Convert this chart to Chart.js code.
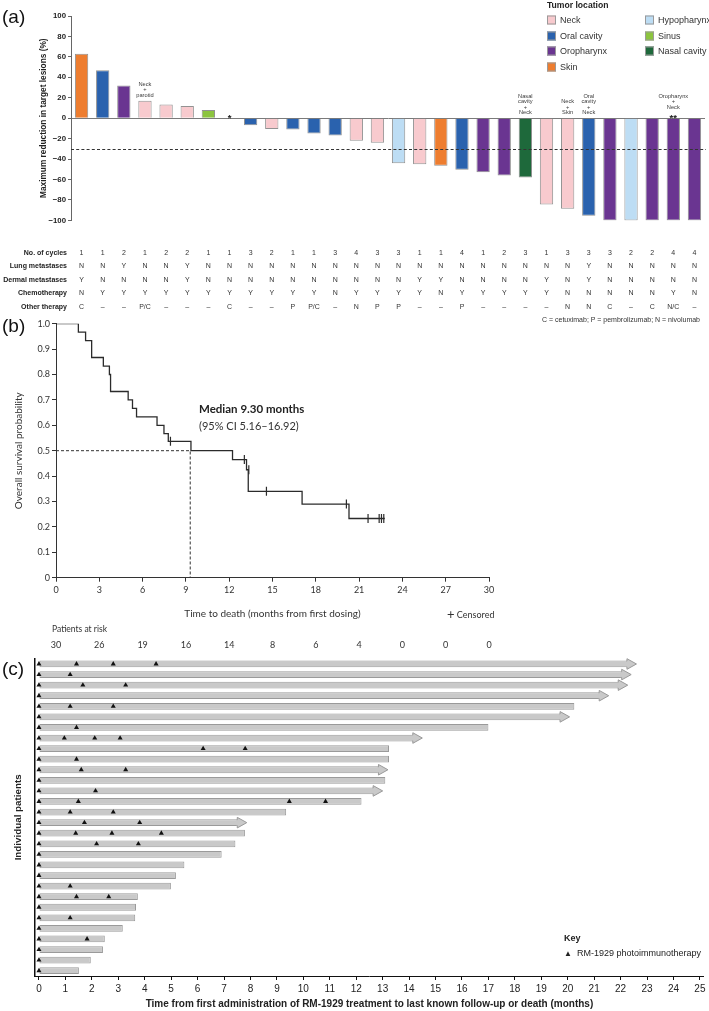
<!DOCTYPE html>
<html lang="en"><head><meta charset="utf-8"><title>RM-1929 figure</title>
<script src="https://cdn.jsdelivr.net/npm/chart.js@4.4.1/dist/chart.umd.min.js"></script>
<style>
html,body{margin:0;padding:0;background:#fff;}
#fig{position:relative;width:709px;height:1011px;overflow:hidden;background:#fff;font-family:'Liberation Sans',Arial,Helvetica,sans-serif;color:#222;}
#fig canvas{position:absolute;left:0;}
.tx{position:absolute;white-space:nowrap;line-height:1;transform:translateY(-50%);}
.panel{font-size:19px;left:2px;color:#111;}
.sw{position:absolute;width:9px;height:9px;box-sizing:border-box;border:1px solid #9a9a9a;transform:translateY(-50%);}
</style></head><body>
<div id="fig">
 <canvas id="chartA" width="709" height="315" style="top:0"></canvas>
 <canvas id="chartB" width="709" height="337" style="top:315px"></canvas>
 <canvas id="chartC" width="709" height="359" style="top:652px"></canvas>
 <div class="tx panel" style="top:16px">(a)</div>
 <div class="tx panel" style="top:325px">(b)</div>
 <div class="tx panel" style="top:668px">(c)</div>
 <div class="tx" style="left:547px;top:5px;font-size:8.6px;font-weight:bold">Tumor location</div>
 <div id="legendA"></div>
 <div class="tx" style="right:9px;top:319px;font-size:7px;color:#333">C = cetuximab; P = pembrolizumab; N = nivolumab</div>
 <div id="medTxt" class="tx" style="left:199px;top:409px;font-family:Lato,sans-serif;font-weight:bold;font-size:11.5px;color:#222"></div>
 <div id="ciTxt" class="tx" style="left:199px;top:425px;font-family:Lato,sans-serif;font-size:11px;color:#333"></div>
 <div class="tx" style="left:447px;top:614px;font-family:Lato,sans-serif;font-size:9px;color:#333"><span style="font-size:13px;vertical-align:-1px">+</span> Censored</div>
 <div class="tx" style="left:52px;top:629px;font-family:Lato,sans-serif;font-size:8.5px;color:#333">Patients at risk</div>
 <div class="tx" style="left:564px;top:938px;font-size:9px;font-weight:bold">Key</div>
 <div class="tx" style="left:564px;top:953px;font-size:9px;color:#222"><span style="font-size:8px">&#9650;</span>&nbsp; RM-1929 photoimmunotherapy</div>
</div>
<script>
// ================= Panel (a) data =================
const patients = ['1','2','3','4','5','6','7','8','9','10','11','12','13','14','15','16','17','18','19','20','21','22','23','24','25','26','27','28','29','30'];
const tumorChange = [63, 47, 32, 17, 13.5, 12, 8, null, -7, -10.5, -11, -15, -17, -22, -24, -44, -45, -46.5, -50.5, -53, -56, -58, -84.5, -88.5, -95.5, -100, -100, -100, -100, -100];
const tumorLocation = ['Skin','Oral cavity','Oropharynx','Neck','Neck','Neck','Sinus',null,'Oral cavity','Neck','Oral cavity','Oral cavity','Oral cavity','Neck','Neck','Hypopharynx','Neck','Skin','Oral cavity','Oropharynx','Oropharynx','Nasal cavity','Neck','Neck','Oral cavity','Oropharynx','Hypopharynx','Oropharynx','Oropharynx','Oropharynx'];
const locationNames = ['Neck','Oral cavity','Oropharynx','Skin','Hypopharynx','Sinus','Nasal cavity'];
const locationColors = ['#F8CACE','#2A62AE','#6A3591','#EE7D2F','#BDDDF4','#8CC43F','#1E693B'];
const responseThreshold = -30;
const barNotes = {4:['Neck','+','parotid'], 22:['Nasal','cavity','+','Neck'], 24:['Neck','+','Skin'], 25:['Oral','cavity','+','Neck'], 29:['Oropharynx','+','Neck']};
const barStars = {8:'*', 29:'**'};
const tableLabels = ['No. of cycles','Lung metastases','Dermal metastases','Chemotherapy','Other therapy'];
const noCycles = [1,1,2,1,2,2,1,1,3,2,1,1,3,4,3,3,1,1,4,1,2,3,1,3,3,3,2,2,4,4];
const lungMets = ['N','N','Y','N','N','Y','N','N','N','N','N','N','N','N','N','N','N','N','N','N','N','N','N','N','Y','N','N','N','N','N'];
const dermalMets = ['Y','N','N','N','N','Y','N','N','N','N','N','N','N','N','N','N','Y','Y','N','N','N','N','Y','N','Y','N','N','N','N','N'];
const chemotherapy = ['N','Y','Y','Y','Y','Y','Y','Y','Y','Y','Y','Y','N','Y','Y','Y','Y','N','Y','Y','Y','Y','Y','N','N','N','N','N','Y','N'];
const otherTherapy = ['C','–','–','P/C','–','–','–','C','–','–','P','P/C','–','N','P','P','–','–','P','–','–','–','–','N','N','C','–','C','N/C','–'];

// ================= Panel (b) data =================
const kmTimes    = [0,   1.55,  2.05,  2.47,  3.28,  3.70, 3.78,  5.0,  5.3,   5.58,  7.0,  7.48,  7.78,  9.35, 12.23, 13.2,  13.32, 17.05, 20.3,  22.78];
const kmSurvival = [1.0, 0.967, 0.933, 0.867, 0.833, 0.80, 0.733, 0.70, 0.667, 0.633, 0.60, 0.567, 0.537, 0.50, 0.465, 0.425, 0.34,  0.29,  0.233, 0.233];
const censorTimes    = [7.93, 13.05, 13.36, 14.58, 20.12, 21.62, 22.39, 22.55, 22.71];
const censorSurvival = [0.537, 0.465, 0.425, 0.34, 0.29, 0.233, 0.233, 0.233, 0.233];
const medianOS = 9.30;
const medianCI = [5.16, 16.92];
const riskTimes = [0,3,6,9,12,15,18,21,24,27,30];
const atRisk = [30,26,19,16,14,8,6,4,0,0,0];

// ================= Panel (c) data =================
const patientRows = ['P1','P2','P3','P4','P5','P6','P7','P8','P9','P10','P11','P12','P13','P14','P15','P16','P17','P18','P19','P20','P21','P22','P23','P24','P25','P26','P27','P28','P29','P30'];
const followUp = [22.6, 22.4, 22.27, 21.55, 20.25, 20.07, 17.0, 14.5, 13.24, 13.24, 13.2, 13.1, 13.0, 12.2, 9.35, 7.86, 7.79, 7.43, 6.91, 5.5, 5.18, 4.99, 3.74, 3.67, 3.64, 3.17, 2.49, 2.42, 1.96, 1.51];
const ongoing = [1,1,1,1,0,1,0,1,0,0,1,0,1,0,0,1,0,0,0,0,0,0,0,0,0,0,0,0,0,0];
const pitTimes = [
  [0,1.42,2.81,4.43],[0,1.18],[0,1.66,3.28],[0],[0,1.18,2.81],[0],[0,1.42],[0,0.96,2.11,3.07],
  [0,6.21,7.8],[0,1.42],[0,1.6,3.28],[0],[0,2.14],[0,1.49,9.47,10.84],[0,1.18,2.81],[0,1.72,3.81],
  [0,1.39,2.76,4.63],[0,2.18,3.76],[0],[0],[0],[0,1.18],[0,1.42,2.64],[0],[0,1.18],[0],[0,1.82],[0],[0],[0]
];

// ================= helpers =================
const FA = "'Liberation Sans', Arial, Helvetica, sans-serif";
const FL = "Lato, 'Open Sans', sans-serif";
const colorOf = loc => { const k = locationNames.indexOf(loc); return k < 0 ? 'rgba(0,0,0,0)' : locationColors[k]; };
Chart.defaults.font.family = FA;

// legend (a)
(function(){
  const host = document.getElementById('legendA');
  const rowY = [20, 35.5, 51, 67];
  locationNames.forEach((name, k) => {
    const col = k < 4 ? 0 : 1, row = k < 4 ? k : k - 4;
    const sx = col === 0 ? 547 : 645;
    const sw = document.createElement('div');
    sw.className = 'sw';
    sw.style.left = sx + 'px'; sw.style.top = rowY[row] + 'px'; sw.style.background = locationColors[k];
    host.appendChild(sw);
    const t = document.createElement('div');
    t.className = 'tx'; t.textContent = name;
    t.style.left = (sx + 13) + 'px'; t.style.top = rowY[row] + 'px'; t.style.fontSize = '9px'; t.style.color = '#333';
    host.appendChild(t);
  });
  document.getElementById('medTxt').textContent = 'Median ' + medianOS.toFixed(2) + ' months';
  document.getElementById('ciTxt').textContent = '(95% CI ' + medianCI[0].toFixed(2) + '–' + medianCI[1].toFixed(2) + ')';
})();

// ================= Chart (a) =================
const panelAExtras = {
  id: 'panelAExtras',
  afterDatasetsDraw(chart) {
    const {ctx, chartArea: a, scales: {x, y}} = chart;
    ctx.save();
    const ty = Math.round(y.getPixelForValue(responseThreshold)) + 0.5;
    ctx.strokeStyle = '#333'; ctx.lineWidth = 1; ctx.setLineDash([3, 2.2]);
    ctx.beginPath(); ctx.moveTo(a.left, ty); ctx.lineTo(a.right + 1, ty); ctx.stroke();
    ctx.setLineDash([]);
    const y0 = y.getPixelForValue(0);
    ctx.textAlign = 'center'; ctx.textBaseline = 'middle';
    ctx.fillStyle = '#3a3a3a'; ctx.font = '5.7px ' + FA;
    Object.keys(barNotes).forEach(k => {
      const i = +k - 1, cx = x.getPixelForValue(i);
      const top = y.getPixelForValue(Math.max(tumorChange[i] || 0, 0));
      let yy = top - 5.6 - (barStars[k] ? 5.4 : 0);
      const lines = barNotes[k];
      for (let j = lines.length - 1; j >= 0; j--) { ctx.fillText(lines[j], cx, yy); yy -= 5.35; }
    });
    ctx.font = 'bold 9.5px ' + FA; ctx.textBaseline = 'alphabetic'; ctx.fillStyle = '#222';
    Object.keys(barStars).forEach(k => { ctx.fillText(barStars[k], x.getPixelForValue(+k - 1), y0 + 3); });
    const cols = [noCycles, lungMets, dermalMets, chemotherapy, otherTherapy];
    const rowY = [253, 266.5, 280, 293.5, 307];
    ctx.textBaseline = 'middle';
    cols.forEach((vals, r) => {
      ctx.font = 'bold 7px ' + FA; ctx.textAlign = 'right'; ctx.fillStyle = '#222';
      ctx.fillText(tableLabels[r], a.left - 4, rowY[r]);
      ctx.font = '7px ' + FA; ctx.textAlign = 'center'; ctx.fillStyle = '#333';
      vals.forEach((v, i) => ctx.fillText(String(v), x.getPixelForValue(i), rowY[r]));
    });
    ctx.restore();
  }
};

new Chart(document.getElementById('chartA'), {
  type: 'bar',
  data: { labels: patients, datasets: [{
    label: 'Maximum change', data: tumorChange,
    backgroundColor: tumorLocation.map(colorOf), borderColor: '#929292', borderWidth: 1,
    barPercentage: 0.63, categoryPercentage: 1
  }]},
  options: {
    responsive: false, animation: false,
    layout: { padding: { left: 0, right: 4, top: 16, bottom: 94.6 } },
    plugins: { legend: { display: false }, tooltip: { enabled: false } },
    scales: {
      x: { display: false },
      y: {
        min: -100, max: 100,
        ticks: { stepSize: 20, padding: 2, color: '#222', font: { family: FA, size: 7.8, weight: 'bold' },
                 callback: v => v < 0 ? '\u2212' + (-v) : String(v) },
        grid: { color: c => (c.tick && c.tick.value === 0) ? '#7a7a7a' : 'rgba(0,0,0,0)', tickColor: '#666', tickLength: 3, lineWidth: 1 },
        border: { display: true, color: '#666', width: 1 },
        title: { display: true, text: 'Maximum reduction in target lesions (%)', color: '#222',
                 font: { family: FA, size: 8.3, weight: 'bold' }, padding: { top: 39, bottom: 0 } },
        afterFit: s => { s.width = 71; }
      }
    }
  },
  plugins: [panelAExtras]
});

// ================= Chart (b) =================
const atRiskRow = {
  id: 'atRiskRow',
  afterDraw(chart) {
    const {ctx, scales: {x}} = chart;
    ctx.save();
    ctx.font = '9px ' + FL; ctx.fillStyle = '#333'; ctx.textAlign = 'center'; ctx.textBaseline = 'middle';
    riskTimes.forEach((t, i) => ctx.fillText(String(atRisk[i]), x.getPixelForValue(t), 330));
    ctx.restore();
  }
};

new Chart(document.getElementById('chartB'), {
  type: 'line',
  data: { datasets: [
    { label: 'Overall survival', data: kmTimes.map((t, i) => ({ x: t, y: kmSurvival[i] })), stepped: true,
      borderColor: '#2b2b2b', borderWidth: 1.3, pointRadius: 0, fill: false, order: 1 },
    { label: 'Censored', data: censorTimes.map((t, i) => ({ x: t, y: censorSurvival[i] })), showLine: false,
      pointStyle: 'line', pointRotation: 90, pointRadius: 4.5, pointBorderColor: '#2b2b2b', pointBorderWidth: 1.2, order: 0 },
    { label: 'Median', data: [{ x: 0, y: 0.5 }, { x: medianOS, y: 0.5 }, { x: medianOS, y: 0 }],
      borderColor: '#333', borderWidth: 1, borderDash: [3, 2], pointRadius: 0, fill: false, order: 2 }
  ]},
  options: {
    responsive: false, animation: false,
    layout: { padding: { left: 0, right: 220, top: 8.7, bottom: 29.3 } },
    plugins: { legend: { display: false }, tooltip: { enabled: false } },
    scales: {
      x: {
        type: 'linear', min: 0, max: 30,
        ticks: { stepSize: 3, padding: 3, color: '#333', font: { family: FL, size: 9 }, maxRotation: 0, autoSkip: false },
        grid: { drawOnChartArea: false, drawTicks: true, tickLength: 4, tickColor: '#333' },
        border: { display: true, color: '#333', width: 1 },
        title: { display: true, text: 'Time to death (months from first dosing)', color: '#333',
                 font: { family: FL, size: 10 }, padding: { top: 0, bottom: 2.7 } },
        afterFit: s => { s.height = 45; }
      },
      y: {
        min: 0, max: 1,
        ticks: { stepSize: 0.1, padding: 2, color: '#333', font: { family: FL, size: 9 },
                 callback: v => (Math.abs(v) < 1e-9 ? '0' : Number(v).toFixed(1)) },
        grid: { drawOnChartArea: false, drawTicks: true, tickLength: 4, tickColor: '#333' },
        border: { display: true, color: '#333', width: 1 },
        title: { display: true, text: 'Overall survival probability', color: '#333',
                 font: { family: FL, size: 10 }, padding: { top: 13, bottom: 0 } },
        afterFit: s => { s.width = 56; }
      }
    }
  },
  plugins: [atRiskRow]
});

// ================= Chart (c) =================
const arrowHeads = {
  id: 'arrowHeads',
  afterDatasetDraw(chart, args) {
    if (args.index !== 1) return;
    const {ctx} = chart;
    ctx.save();
    args.meta.data.forEach((el, i) => {
      if (!ongoing[i]) return;
      const p = el.getProps(['x', 'y', 'height'], true);
      const x = p.x, y = p.y, h = p.height / 2, L = 9.5, H = 5.3;
      ctx.fillStyle = '#fff'; ctx.fillRect(x - L, y - h - 1, L + 2, 2 * h + 2);
      ctx.beginPath();
      ctx.moveTo(x - L - 1, y - h + 0.5); ctx.lineTo(x - L, y - h + 0.5); ctx.lineTo(x - L, y - H); ctx.lineTo(x, y);
      ctx.lineTo(x - L, y + H); ctx.lineTo(x - L, y + h - 0.5); ctx.lineTo(x - L - 1, y + h - 0.5); ctx.closePath();
      ctx.fillStyle = '#c9c9c9'; ctx.fill();
      ctx.beginPath();
      ctx.moveTo(x - L - 0.5, y - h + 0.5); ctx.lineTo(x - L, y - h + 0.5); ctx.lineTo(x - L, y - H); ctx.lineTo(x, y);
      ctx.lineTo(x - L, y + H); ctx.lineTo(x - L, y + h - 0.5); ctx.lineTo(x - L - 0.5, y + h - 0.5);
      ctx.strokeStyle = '#9a9a9a'; ctx.lineWidth = 1; ctx.stroke();
    });
    ctx.restore();
  }
};

const pitPoints = [];
pitTimes.forEach((arr, r) => arr.forEach(t => pitPoints.push({ x: t, y: patientRows[r] })));

new Chart(document.getElementById('chartC'), {
  type: 'bar',
  data: { labels: patientRows, datasets: [
    { type: 'scatter', label: 'RM-1929 photoimmunotherapy', data: pitPoints, pointStyle: 'triangle', pointRadius: 2.9,
      pointBackgroundColor: '#111', pointBorderColor: '#111', pointBorderWidth: 0, order: 0 },
    { label: 'Follow-up', data: followUp, backgroundColor: '#c9c9c9', borderColor: '#9a9a9a', borderWidth: 1,
      borderSkipped: false, barPercentage: 0.64, categoryPercentage: 1, order: 1 }
  ]},
  options: {
    indexAxis: 'y', responsive: false, animation: false,
    layout: { padding: { left: 0, right: 3, top: 6.7, bottom: 0 } },
    plugins: { legend: { display: false }, tooltip: { enabled: false } },
    scales: {
      x: {
        type: 'linear', min: -0.15, max: 25.15, offset: false,
        ticks: { stepSize: 1, includeBounds: false, padding: 3.5, color: '#222', font: { family: FA, size: 10 }, maxRotation: 0, autoSkip: false },
        grid: { drawOnChartArea: false, drawTicks: true, tickLength: 4, tickColor: '#111' },
        border: { display: true, color: '#111', width: 1 },
        title: { display: true, text: 'Time from first administration of RM-1929 treatment to last known follow-up or death (months)',
                 color: '#222', font: { family: FA, size: 10, weight: 'bold' }, padding: { top: 0, bottom: 1 } },
        afterFit: s => { s.height = 35; }
      },
      y: {
        type: 'category', offset: true,
        ticks: { display: false },
        grid: { display: false, drawTicks: false },
        border: { display: true, color: '#111', width: 1.5 },
        title: { display: true, text: 'Individual patients', color: '#222',
                 font: { family: FA, size: 9.8, weight: 'bold' }, padding: { top: 12.2, bottom: 0 } },
        afterFit: s => { s.width = 35; }
      }
    }
  },
  plugins: [arrowHeads]
});
</script>
</body></html>
